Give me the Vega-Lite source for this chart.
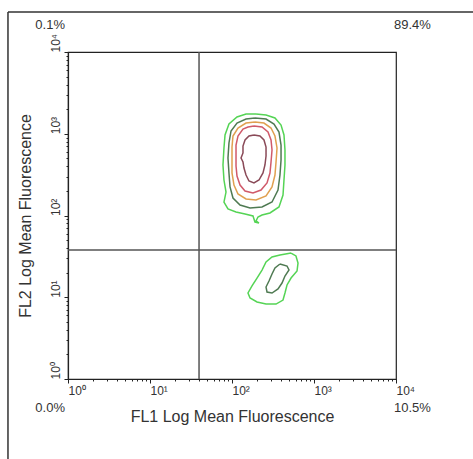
{
  "$schema": "https://vega.github.io/schema/vega-lite/v6.json",
  "width": 328,
  "height": 327,
  "autosize": {"type": "none"},
  "padding": {"left": 68, "top": 52, "right": 77, "bottom": 80},
  "background": "white",
  "config": {
    "font": "Liberation Sans",
    "view": {"stroke": "#222", "strokeWidth": 1.2},
    "axis": {"grid": false, "domainColor": "#222", "domainWidth": 1.2, "tickColor": "#222", "labelColor": "#333", "titleColor": "#333", "labelFont": "Liberation Sans", "titleFont": "Liberation Sans"}
  },
  "datasets": {
    "contours": [
      {"c":"U1","level":"g1","i":0,"fl1":2.293,"fl2":3.242},
      {"c":"U1","level":"g1","i":1,"fl1":2.415,"fl2":3.229},
      {"c":"U1","level":"g1","i":2,"fl1":2.524,"fl2":3.193},
      {"c":"U1","level":"g1","i":3,"fl1":2.598,"fl2":3.107},
      {"c":"U1","level":"g1","i":4,"fl1":2.634,"fl2":2.985},
      {"c":"U1","level":"g1","i":5,"fl1":2.646,"fl2":2.801},
      {"c":"U1","level":"g1","i":6,"fl1":2.646,"fl2":2.618},
      {"c":"U1","level":"g1","i":7,"fl1":2.634,"fl2":2.434},
      {"c":"U1","level":"g1","i":8,"fl1":2.622,"fl2":2.251},
      {"c":"U1","level":"g1","i":9,"fl1":2.573,"fl2":2.104},
      {"c":"U1","level":"g1","i":10,"fl1":2.463,"fl2":2.031},
      {"c":"U1","level":"g1","i":11,"fl1":2.366,"fl2":2.006},
      {"c":"U1","level":"g1","i":12,"fl1":2.317,"fl2":1.982},
      {"c":"U1","level":"g1","i":13,"fl1":2.293,"fl2":1.933},
      {"c":"U1","level":"g1","i":14,"fl1":2.329,"fl2":1.908},
      {"c":"U1","level":"g1","i":15,"fl1":2.280,"fl2":1.920},
      {"c":"U1","level":"g1","i":16,"fl1":2.256,"fl2":1.994},
      {"c":"U1","level":"g1","i":17,"fl1":2.159,"fl2":2.018},
      {"c":"U1","level":"g1","i":18,"fl1":2.049,"fl2":2.043},
      {"c":"U1","level":"g1","i":19,"fl1":1.951,"fl2":2.080},
      {"c":"U1","level":"g1","i":20,"fl1":1.902,"fl2":2.165},
      {"c":"U1","level":"g1","i":21,"fl1":1.927,"fl2":2.287},
      {"c":"U1","level":"g1","i":22,"fl1":1.902,"fl2":2.434},
      {"c":"U1","level":"g1","i":23,"fl1":1.890,"fl2":2.618},
      {"c":"U1","level":"g1","i":24,"fl1":1.902,"fl2":2.826},
      {"c":"U1","level":"g1","i":25,"fl1":1.915,"fl2":2.985},
      {"c":"U1","level":"g1","i":26,"fl1":1.963,"fl2":3.119},
      {"c":"U1","level":"g1","i":27,"fl1":2.061,"fl2":3.205},
      {"c":"U1","level":"g1","i":28,"fl1":2.171,"fl2":3.242},
      {"c":"U1","level":"g1","i":29,"fl1":2.293,"fl2":3.242},

      {"c":"U2","level":"g2","i":0,"fl1":2.280,"fl2":3.193},
      {"c":"U2","level":"g2","i":1,"fl1":2.415,"fl2":3.180},
      {"c":"U2","level":"g2","i":2,"fl1":2.512,"fl2":3.119},
      {"c":"U2","level":"g2","i":3,"fl1":2.573,"fl2":3.021},
      {"c":"U2","level":"g2","i":4,"fl1":2.598,"fl2":2.862},
      {"c":"U2","level":"g2","i":5,"fl1":2.598,"fl2":2.679},
      {"c":"U2","level":"g2","i":6,"fl1":2.585,"fl2":2.495},
      {"c":"U2","level":"g2","i":7,"fl1":2.561,"fl2":2.312},
      {"c":"U2","level":"g2","i":8,"fl1":2.488,"fl2":2.165},
      {"c":"U2","level":"g2","i":9,"fl1":2.366,"fl2":2.104},
      {"c":"U2","level":"g2","i":10,"fl1":2.220,"fl2":2.092},
      {"c":"U2","level":"g2","i":11,"fl1":2.098,"fl2":2.128},
      {"c":"U2","level":"g2","i":12,"fl1":2.012,"fl2":2.214},
      {"c":"U2","level":"g2","i":13,"fl1":1.976,"fl2":2.349},
      {"c":"U2","level":"g2","i":14,"fl1":1.963,"fl2":2.520},
      {"c":"U2","level":"g2","i":15,"fl1":1.951,"fl2":2.703},
      {"c":"U2","level":"g2","i":16,"fl1":1.963,"fl2":2.887},
      {"c":"U2","level":"g2","i":17,"fl1":1.988,"fl2":3.034},
      {"c":"U2","level":"g2","i":18,"fl1":2.061,"fl2":3.131},
      {"c":"U2","level":"g2","i":19,"fl1":2.171,"fl2":3.180},
      {"c":"U2","level":"g2","i":20,"fl1":2.280,"fl2":3.193},

      {"c":"U3","level":"o","i":0,"fl1":2.280,"fl2":3.144},
      {"c":"U3","level":"o","i":1,"fl1":2.390,"fl2":3.131},
      {"c":"U3","level":"o","i":2,"fl1":2.476,"fl2":3.070},
      {"c":"U3","level":"o","i":3,"fl1":2.524,"fl2":2.972},
      {"c":"U3","level":"o","i":4,"fl1":2.549,"fl2":2.826},
      {"c":"U3","level":"o","i":5,"fl1":2.537,"fl2":2.654},
      {"c":"U3","level":"o","i":6,"fl1":2.524,"fl2":2.495},
      {"c":"U3","level":"o","i":7,"fl1":2.488,"fl2":2.349},
      {"c":"U3","level":"o","i":8,"fl1":2.415,"fl2":2.239},
      {"c":"U3","level":"o","i":9,"fl1":2.293,"fl2":2.190},
      {"c":"U3","level":"o","i":10,"fl1":2.171,"fl2":2.202},
      {"c":"U3","level":"o","i":11,"fl1":2.073,"fl2":2.263},
      {"c":"U3","level":"o","i":12,"fl1":2.024,"fl2":2.373},
      {"c":"U3","level":"o","i":13,"fl1":2.000,"fl2":2.520},
      {"c":"U3","level":"o","i":14,"fl1":2.000,"fl2":2.679},
      {"c":"U3","level":"o","i":15,"fl1":2.000,"fl2":2.838},
      {"c":"U3","level":"o","i":16,"fl1":2.012,"fl2":2.972},
      {"c":"U3","level":"o","i":17,"fl1":2.073,"fl2":3.070},
      {"c":"U3","level":"o","i":18,"fl1":2.171,"fl2":3.131},
      {"c":"U3","level":"o","i":19,"fl1":2.280,"fl2":3.144},

      {"c":"U4","level":"r","i":0,"fl1":2.268,"fl2":3.095},
      {"c":"U4","level":"r","i":1,"fl1":2.366,"fl2":3.083},
      {"c":"U4","level":"r","i":2,"fl1":2.439,"fl2":3.021},
      {"c":"U4","level":"r","i":3,"fl1":2.476,"fl2":2.924},
      {"c":"U4","level":"r","i":4,"fl1":2.488,"fl2":2.801},
      {"c":"U4","level":"r","i":5,"fl1":2.476,"fl2":2.654},
      {"c":"U4","level":"r","i":6,"fl1":2.463,"fl2":2.520},
      {"c":"U4","level":"r","i":7,"fl1":2.427,"fl2":2.398},
      {"c":"U4","level":"r","i":8,"fl1":2.354,"fl2":2.312},
      {"c":"U4","level":"r","i":9,"fl1":2.256,"fl2":2.275},
      {"c":"U4","level":"r","i":10,"fl1":2.159,"fl2":2.300},
      {"c":"U4","level":"r","i":11,"fl1":2.098,"fl2":2.373},
      {"c":"U4","level":"r","i":12,"fl1":2.061,"fl2":2.483},
      {"c":"U4","level":"r","i":13,"fl1":2.049,"fl2":2.606},
      {"c":"U4","level":"r","i":14,"fl1":2.049,"fl2":2.740},
      {"c":"U4","level":"r","i":15,"fl1":2.049,"fl2":2.862},
      {"c":"U4","level":"r","i":16,"fl1":2.073,"fl2":2.972},
      {"c":"U4","level":"r","i":17,"fl1":2.134,"fl2":3.058},
      {"c":"U4","level":"r","i":18,"fl1":2.195,"fl2":3.083},
      {"c":"U4","level":"r","i":19,"fl1":2.268,"fl2":3.095},

      {"c":"U5","level":"m","i":0,"fl1":2.268,"fl2":2.985},
      {"c":"U5","level":"m","i":1,"fl1":2.341,"fl2":2.972},
      {"c":"U5","level":"m","i":2,"fl1":2.390,"fl2":2.924},
      {"c":"U5","level":"m","i":3,"fl1":2.415,"fl2":2.838},
      {"c":"U5","level":"m","i":4,"fl1":2.415,"fl2":2.728},
      {"c":"U5","level":"m","i":5,"fl1":2.402,"fl2":2.618},
      {"c":"U5","level":"m","i":6,"fl1":2.378,"fl2":2.520},
      {"c":"U5","level":"m","i":7,"fl1":2.329,"fl2":2.434},
      {"c":"U5","level":"m","i":8,"fl1":2.268,"fl2":2.398},
      {"c":"U5","level":"m","i":9,"fl1":2.207,"fl2":2.422},
      {"c":"U5","level":"m","i":10,"fl1":2.171,"fl2":2.495},
      {"c":"U5","level":"m","i":11,"fl1":2.146,"fl2":2.581},
      {"c":"U5","level":"m","i":12,"fl1":2.134,"fl2":2.654},
      {"c":"U5","level":"m","i":13,"fl1":2.110,"fl2":2.703},
      {"c":"U5","level":"m","i":14,"fl1":2.134,"fl2":2.765},
      {"c":"U5","level":"m","i":15,"fl1":2.134,"fl2":2.850},
      {"c":"U5","level":"m","i":16,"fl1":2.159,"fl2":2.924},
      {"c":"U5","level":"m","i":17,"fl1":2.207,"fl2":2.972},
      {"c":"U5","level":"m","i":18,"fl1":2.268,"fl2":2.985},

      {"c":"L1","level":"g1","i":0,"fl1":2.720,"fl2":1.541},
      {"c":"L1","level":"g1","i":1,"fl1":2.780,"fl2":1.505},
      {"c":"L1","level":"g1","i":2,"fl1":2.805,"fl2":1.419},
      {"c":"L1","level":"g1","i":3,"fl1":2.793,"fl2":1.321},
      {"c":"L1","level":"g1","i":4,"fl1":2.720,"fl2":1.235},
      {"c":"L1","level":"g1","i":5,"fl1":2.671,"fl2":1.150},
      {"c":"L1","level":"g1","i":6,"fl1":2.646,"fl2":1.052},
      {"c":"L1","level":"g1","i":7,"fl1":2.622,"fl2":0.966},
      {"c":"L1","level":"g1","i":8,"fl1":2.537,"fl2":0.917},
      {"c":"L1","level":"g1","i":9,"fl1":2.415,"fl2":0.917},
      {"c":"L1","level":"g1","i":10,"fl1":2.305,"fl2":0.942},
      {"c":"L1","level":"g1","i":11,"fl1":2.220,"fl2":0.991},
      {"c":"L1","level":"g1","i":12,"fl1":2.195,"fl2":1.052},
      {"c":"L1","level":"g1","i":13,"fl1":2.244,"fl2":1.138},
      {"c":"L1","level":"g1","i":14,"fl1":2.305,"fl2":1.235},
      {"c":"L1","level":"g1","i":15,"fl1":2.366,"fl2":1.333},
      {"c":"L1","level":"g1","i":16,"fl1":2.415,"fl2":1.431},
      {"c":"L1","level":"g1","i":17,"fl1":2.488,"fl2":1.492},
      {"c":"L1","level":"g1","i":18,"fl1":2.585,"fl2":1.517},
      {"c":"L1","level":"g1","i":19,"fl1":2.720,"fl2":1.541},

      {"c":"L2","level":"g2","i":0,"fl1":2.585,"fl2":1.407},
      {"c":"L2","level":"g2","i":1,"fl1":2.671,"fl2":1.382},
      {"c":"L2","level":"g2","i":2,"fl1":2.695,"fl2":1.333},
      {"c":"L2","level":"g2","i":3,"fl1":2.646,"fl2":1.260},
      {"c":"L2","level":"g2","i":4,"fl1":2.610,"fl2":1.174},
      {"c":"L2","level":"g2","i":5,"fl1":2.561,"fl2":1.101},
      {"c":"L2","level":"g2","i":6,"fl1":2.488,"fl2":1.052},
      {"c":"L2","level":"g2","i":7,"fl1":2.427,"fl2":1.064},
      {"c":"L2","level":"g2","i":8,"fl1":2.415,"fl2":1.125},
      {"c":"L2","level":"g2","i":9,"fl1":2.451,"fl2":1.199},
      {"c":"L2","level":"g2","i":10,"fl1":2.488,"fl2":1.284},
      {"c":"L2","level":"g2","i":11,"fl1":2.524,"fl2":1.358},
      {"c":"L2","level":"g2","i":12,"fl1":2.585,"fl2":1.407}
    ],
    "quadrants": [
      {"side":"left","label":"0.1%","fl1":0,"fl2":4.33},
      {"side":"right","label":"89.4%","fl1":4,"fl2":4.33},
      {"side":"left","label":"0.0%","fl1":0,"fl2":-0.355},
      {"side":"right","label":"10.5%","fl1":4,"fl2":-0.355}
    ],
    "gates": [{"gx": 1.598, "gy": 1.578}],
    "frame": [{"x0": -0.732, "x1": 4.95, "y0": -0.99, "y1": 4.489}]
  },
  "layer": [
    {
      "data": {"name": "frame"},
      "mark": {"type": "rule", "color": "#333", "strokeWidth": 1.5, "clip": false},
      "encoding": {
        "x": {"field": "x0", "type": "quantitative", "scale": {"domain": [0, 4], "nice": false, "zero": false}, "axis": null},
        "x2": {"field": "x1"},
        "y": {"field": "y1", "type": "quantitative", "scale": {"domain": [0, 4], "nice": false, "zero": false}, "axis": null}
      }
    },
    {
      "data": {"name": "frame"},
      "mark": {"type": "rule", "color": "#333", "strokeWidth": 1.5, "clip": false},
      "encoding": {
        "x": {"field": "x0", "type": "quantitative", "scale": {"domain": [0, 4], "nice": false, "zero": false}, "axis": null},
        "y": {"field": "y0", "type": "quantitative", "scale": {"domain": [0, 4], "nice": false, "zero": false}, "axis": null},
        "y2": {"field": "y1"}
      }
    },
    {
      "data": {"name": "gates"},
      "mark": {"type": "rule", "color": "#555", "strokeWidth": 1.5},
      "encoding": {
        "x": {"field": "gx", "type": "quantitative", "scale": {"domain": [0, 4], "nice": false, "zero": false},
          "axis": {"orient": "bottom", "values": [0.301,0.477,0.602,0.699,0.778,0.845,0.903,0.954,1.301,1.477,1.602,1.699,1.778,1.845,1.903,1.954,2.301,2.477,2.602,2.699,2.778,2.845,2.903,2.954,3.301,3.477,3.602,3.699,3.778,3.845,3.903,3.954], "labels": false, "domain": false, "tickSize": 2, "title": null}}
      }
    },
    {
      "data": {"name": "gates"},
      "mark": {"type": "rule", "color": "#555", "strokeWidth": 1.5},
      "encoding": {
        "y": {"field": "gy", "type": "quantitative", "scale": {"domain": [0, 4], "nice": false, "zero": false},
          "axis": {"orient": "left", "values": [0.301,0.477,0.602,0.699,0.778,0.845,0.903,0.954,1.301,1.477,1.602,1.699,1.778,1.845,1.903,1.954,2.301,2.477,2.602,2.699,2.778,2.845,2.903,2.954,3.301,3.477,3.602,3.699,3.778,3.845,3.903,3.954], "labels": false, "domain": false, "tickSize": 2, "title": null}}
      }
    },
    {
      "data": {"name": "contours"},
      "mark": {"type": "line", "strokeWidth": 1.5, "interpolate": "linear"},
      "encoding": {
        "x": {"field": "fl1", "type": "quantitative", "scale": {"domain": [0, 4], "nice": false, "zero": false},
          "axis": {"orient": "bottom", "values": [0, 1, 2, 3, 4], "labelExpr": "'10' + ['⁰','¹','²','³','⁴'][datum.value]", "labelAlign": "left", "labelFontSize": 12, "labelPadding": 2, "tickSize": 4, "labelFlush": false, "title": "FL1 Log Mean Fluorescence", "titleFontSize": 16, "titleFontWeight": "normal", "titlePadding": 12}},
        "y": {"field": "fl2", "type": "quantitative", "scale": {"domain": [0, 4], "nice": false, "zero": false},
          "axis": {"orient": "left", "values": [0, 1, 2, 3, 4], "labelExpr": "'10' + ['⁰','¹','²','³','⁴'][datum.value]", "labelAngle": -90, "labelAlign": "left", "labelBaseline": "bottom", "labelFontSize": 12, "labelPadding": 2, "tickSize": 4, "labelFlush": false, "title": "FL2 Log Mean Fluorescence", "titleFontSize": 16, "titleFontWeight": "normal", "titlePadding": 16}},
        "detail": {"field": "c"},
        "order": {"field": "i", "type": "quantitative"},
        "color": {"field": "level", "type": "nominal", "legend": null,
          "scale": {"domain": ["g1", "g2", "o", "r", "m"], "range": ["#55d455", "#4f7a52", "#e0a050", "#d05a6a", "#8a4a58"]}}
      }
    },
    {
      "data": {"name": "quadrants"},
      "transform": [{"filter": "datum.side == 'left'"}],
      "mark": {"type": "text", "align": "right", "baseline": "middle", "dx": -3, "fontSize": 13, "color": "#333", "clip": false},
      "encoding": {
        "x": {"field": "fl1", "type": "quantitative", "scale": {"domain": [0, 4], "nice": false, "zero": false}, "axis": null},
        "y": {"field": "fl2", "type": "quantitative", "scale": {"domain": [0, 4], "nice": false, "zero": false}, "axis": null},
        "text": {"field": "label"}
      }
    },
    {
      "data": {"name": "quadrants"},
      "transform": [{"filter": "datum.side == 'right'"}],
      "mark": {"type": "text", "align": "left", "baseline": "middle", "dx": -2, "fontSize": 13, "color": "#333", "clip": false},
      "encoding": {
        "x": {"field": "fl1", "type": "quantitative", "scale": {"domain": [0, 4], "nice": false, "zero": false}, "axis": null},
        "y": {"field": "fl2", "type": "quantitative", "scale": {"domain": [0, 4], "nice": false, "zero": false}, "axis": null},
        "text": {"field": "label"}
      }
    }
  ],
  "resolve": {"axis": {"x": "independent", "y": "independent"}}
}
